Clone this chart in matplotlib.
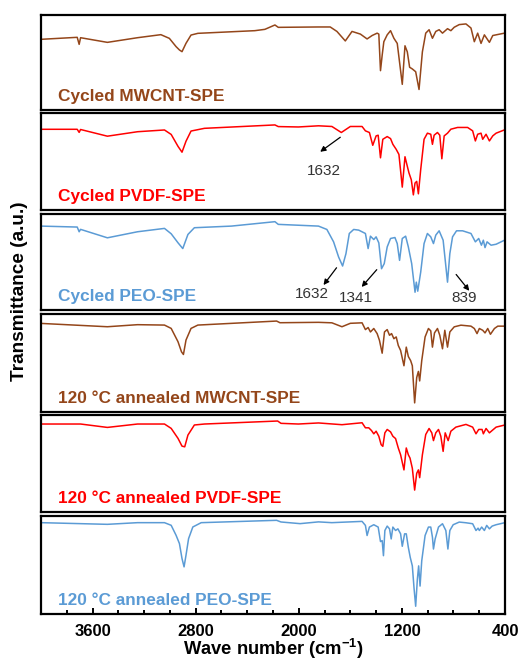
import matplotlib
matplotlib.use("Agg")
import matplotlib.pyplot as plt
from matplotlib.ticker import MultipleLocator

plt.rcParams['font.family'] = ['Liberation Sans', 'DejaVu Sans']
plt.rcParams['mathtext.fontset'] = 'custom'
plt.rcParams['mathtext.rm'] = 'Liberation Sans'
plt.rcParams['mathtext.bf'] = 'Liberation Sans:bold'

# spectra: wavenumber (cm-1) and normalised transmittance
wn_mwcnt_cyc = [4000, 3719, 3704, 3693, 3485, 3251, 3070, 3004, 2952, 2926, 2906, 2875, 2836, 2783,
                2341, 2263, 2185, 2159, 1847, 1756, 1704, 1639, 1587, 1522, 1470, 1431, 1392, 1379,
                1366, 1353, 1340, 1314, 1288, 1262, 1236, 1197, 1176, 1158, 1140, 1119, 1093, 1067,
                1041, 1015, 989, 963, 937, 911, 885, 846, 820, 794, 755, 703, 664, 638, 612, 586,
                560, 521, 495, 404]
t_mwcnt_cyc = [0.744, 0.765, 0.691, 0.761, 0.712, 0.761, 0.793, 0.754, 0.667, 0.632, 0.614, 0.702, 0.789, 0.807,
               0.835, 0.849, 0.895, 0.870, 0.874, 0.874, 0.827, 0.727, 0.827, 0.799, 0.748, 0.784, 0.809, 0.799,
               0.414, 0.576, 0.719, 0.791, 0.835, 0.755, 0.701, 0.270, 0.676, 0.612, 0.450, 0.432, 0.403, 0.216,
               0.612, 0.809, 0.845, 0.755, 0.827, 0.845, 0.809, 0.856, 0.835, 0.871, 0.899, 0.906, 0.863, 0.719,
               0.809, 0.701, 0.791, 0.712, 0.784, 0.809]

wn_pvdf_cyc = [4000, 3719, 3704, 3693, 3485, 3251, 3042, 2990, 2937, 2906, 2875, 2836, 2732, 2185, 2159,
               2003, 1847, 1743, 1670, 1600, 1509, 1483, 1452, 1426, 1400, 1384, 1366, 1348, 1314, 1288,
               1270, 1244, 1223, 1197, 1176, 1158, 1145, 1127, 1111, 1098, 1085, 1072, 1054, 1028, 1002,
               976, 963, 950, 924, 906, 890, 872, 846, 820, 768, 690, 651, 630, 612, 586, 573, 547, 521,
               495, 469, 404]
t_pvdf_cyc = [0.832, 0.832, 0.800, 0.830, 0.761, 0.807, 0.825, 0.779, 0.656, 0.596, 0.709, 0.814, 0.842, 0.877, 0.860,
              0.856, 0.868, 0.861, 0.799, 0.861, 0.861, 0.816, 0.799, 0.667, 0.764, 0.771, 0.538, 0.729, 0.757, 0.736,
              0.677, 0.625, 0.573, 0.236, 0.549, 0.451, 0.382, 0.312, 0.156, 0.278, 0.295, 0.167, 0.417, 0.729, 0.792,
              0.781, 0.677, 0.771, 0.799, 0.771, 0.528, 0.764, 0.792, 0.833, 0.851, 0.851, 0.816, 0.712, 0.781, 0.792,
              0.729, 0.781, 0.712, 0.764, 0.792, 0.826]

wn_peo_cyc = [4000, 3719, 3704, 3693, 3485, 3251, 3042, 2990, 2937, 2900, 2860, 2810, 2523, 2185, 2159, 1847,
              1782, 1730, 1691, 1660, 1634, 1608, 1574, 1535, 1483, 1462, 1444, 1418, 1400, 1379, 1358, 1337,
              1314, 1288, 1254, 1236, 1218, 1197, 1171, 1150, 1124, 1098, 1088, 1077, 1054, 1028, 1002, 976,
              955, 937, 911, 880, 846, 828, 807, 776, 729, 664, 630, 604, 583, 568, 555, 539, 508, 469, 404]
t_peo_cyc = [0.874, 0.864, 0.815, 0.840, 0.752, 0.815, 0.850, 0.794, 0.700, 0.640, 0.787, 0.857, 0.874, 0.920, 0.892, 0.874,
             0.839, 0.710, 0.552, 0.458, 0.587, 0.797, 0.839, 0.832, 0.797, 0.640, 0.769, 0.734, 0.762, 0.699, 0.430, 0.483,
             0.657, 0.745, 0.755, 0.692, 0.517, 0.745, 0.769, 0.657, 0.483, 0.185, 0.290, 0.196, 0.395, 0.692, 0.797, 0.762,
             0.692, 0.780, 0.825, 0.727, 0.290, 0.587, 0.762, 0.825, 0.825, 0.797, 0.710, 0.745, 0.675, 0.727, 0.650, 0.710,
             0.675, 0.685, 0.727]

wn_mwcnt_ann = [4000, 3485, 3251, 3042, 2990, 2937, 2910, 2895, 2875, 2836, 2783, 2172, 2146, 1847, 1743, 1665,
                1600, 1509, 1483, 1462, 1444, 1418, 1392, 1374, 1353, 1335, 1314, 1296, 1280, 1262, 1244, 1228,
                1210, 1184, 1166, 1150, 1132, 1119, 1101, 1085, 1072, 1062, 1046, 1020, 994, 976, 963, 947, 924,
                906, 885, 867, 846, 828, 794, 742, 664, 638, 617, 599, 573, 555, 534, 513, 482, 456, 404]
t_mwcnt_ann = [0.904, 0.870, 0.891, 0.887, 0.853, 0.717, 0.614, 0.587, 0.734, 0.853, 0.887, 0.928, 0.911, 0.915, 0.910, 0.870,
               0.905, 0.910, 0.841, 0.862, 0.817, 0.852, 0.800, 0.731, 0.600, 0.817, 0.841, 0.783, 0.800, 0.748, 0.766, 0.679,
               0.628, 0.472, 0.662, 0.566, 0.524, 0.472, 0.093, 0.352, 0.414, 0.317, 0.524, 0.766, 0.852, 0.828, 0.662, 0.807, 0.852,
               0.783, 0.645, 0.834, 0.662, 0.817, 0.869, 0.886, 0.876, 0.852, 0.800, 0.852, 0.834, 0.807, 0.852, 0.793, 0.852, 0.876, 0.876]

wn_pvdf_ann = [4000, 3693, 3485, 3251, 3042, 2990, 2937, 2906, 2885, 2860, 2810, 2732, 2164, 2138, 2003, 1847,
               1665, 1509, 1483, 1457, 1436, 1418, 1400, 1379, 1361, 1348, 1332, 1314, 1288, 1270, 1249, 1228,
               1210, 1184, 1166, 1150, 1137, 1119, 1101, 1085, 1072, 1062, 1041, 1015, 989, 968, 955, 937, 916,
               898, 880, 864, 841, 820, 781, 703, 651, 625, 604, 578, 568, 547, 521, 500, 469, 404]
t_pvdf_ann = [0.907, 0.907, 0.872, 0.907, 0.907, 0.862, 0.759, 0.679, 0.672, 0.793, 0.897, 0.907, 0.938, 0.914, 0.907, 0.918,
              0.900, 0.920, 0.868, 0.868, 0.840, 0.806, 0.833, 0.781, 0.694, 0.677, 0.816, 0.851, 0.826, 0.781, 0.757, 0.660,
              0.590, 0.434, 0.660, 0.590, 0.556, 0.451, 0.226, 0.399, 0.434, 0.354, 0.590, 0.799, 0.861, 0.816, 0.736, 0.816, 0.851,
              0.781, 0.625, 0.816, 0.736, 0.833, 0.875, 0.903, 0.875, 0.806, 0.851, 0.851, 0.806, 0.861, 0.816, 0.840, 0.875, 0.896]

wn_peo_ann = [4000, 3485, 3251, 3042, 2990, 2952, 2926, 2906, 2890, 2875, 2855, 2822, 2757, 2172, 2138, 1990,
              1847, 1744, 1509, 1483, 1470, 1452, 1418, 1384, 1366, 1353, 1343, 1332, 1314, 1296, 1283, 1270,
              1249, 1231, 1210, 1197, 1179, 1166, 1150, 1135, 1119, 1106, 1093, 1080, 1070, 1059, 1046, 1020,
              994, 976, 963, 955, 942, 916, 885, 859, 843, 828, 802, 755, 703, 651, 625, 609, 599, 581, 560,
              542, 521, 500, 469, 404]
t_peo_ann = [0.932, 0.915, 0.932, 0.932, 0.905, 0.803, 0.719, 0.566, 0.481, 0.600, 0.769, 0.888, 0.932, 0.956, 0.939, 0.922,
             0.940, 0.932, 0.945, 0.904, 0.801, 0.887, 0.911, 0.887, 0.739, 0.749, 0.595, 0.852, 0.897, 0.869, 0.766, 0.887,
             0.852, 0.869, 0.818, 0.691, 0.818, 0.818, 0.680, 0.577, 0.491, 0.268, 0.079, 0.354, 0.491, 0.285, 0.543, 0.801,
             0.887, 0.887, 0.784, 0.663, 0.766, 0.887, 0.921, 0.852, 0.663, 0.852, 0.911, 0.938, 0.931, 0.921, 0.852, 0.876,
             0.852, 0.887, 0.852, 0.904, 0.869, 0.897, 0.911, 0.931]

labels = ['Cycled MWCNT-SPE', 'Cycled PVDF-SPE', 'Cycled PEO-SPE',
          '120 °C annealed MWCNT-SPE', '120 °C annealed PVDF-SPE', '120 °C annealed PEO-SPE']

brown = '#94461a'
red = '#ff0000'
blue = '#5b9bd5'
colors = [brown, red, blue, brown, red, blue]

spectra = [(wn_mwcnt_cyc, t_mwcnt_cyc), (wn_pvdf_cyc, t_pvdf_cyc), (wn_peo_cyc, t_peo_cyc),
           (wn_mwcnt_ann, t_mwcnt_ann), (wn_pvdf_ann, t_pvdf_ann), (wn_peo_ann, t_peo_ann)]

# peak labels: (panel, text, arrow tail, arrow head, text position)
peaks = [
    (1, '1632', (1678, 0.75), (1834, 0.60), (1808, 0.40)),
    (2, '1632', (1707, 0.44), (1808, 0.26), (1902, 0.17)),
    (2, '1341', (1395, 0.42), (1512, 0.24), (1559, 0.13)),
    (2, '839', (779, 0.37), (677, 0.20), (716, 0.13)),
]

W, H = 521, 663
fig = plt.figure(figsize=(W / 100, H / 100), dpi=100)

# panel top/bottom in pixels
rows = [(15, 110), (113, 210), (214, 310), (314, 412), (415, 512), (516, 614)]
left, right = 41, 505

axes = []
for i, (top, bot) in enumerate(rows):
    ax = fig.add_axes([left / W, 1 - bot / H, (right - left) / W, (bot - top) / H])
    wn, t = spectra[i]
    ax.plot(wn, t, color=colors[i], lw=1.1)
    ax.set_xlim(4000, 400)
    ax.set_ylim(0, 1)
    ax.set_yticks([])
    for s in ax.spines.values():
        s.set_linewidth(1.6)
    ax.text(0.037, 0.14, labels[i], transform=ax.transAxes, color=colors[i],
            fontsize=12.4, fontweight='bold', va='center', ha='left')
    if i < 5:
        ax.set_xticks([])
    axes.append(ax)

for k, txt, tail, head, pos in peaks:
    ax = axes[k]
    ax.annotate('', xy=head, xytext=tail,
                arrowprops=dict(arrowstyle='-|>', color='black', lw=0.9,
                                mutation_scale=8, shrinkA=0, shrinkB=0))
    ax.text(pos[0], pos[1], txt, fontsize=11, color='#333333', ha='center', va='center')

ax = axes[-1]
ax.xaxis.set_minor_locator(MultipleLocator(200))
ax.set_xticks([3600, 2800, 2000, 1200, 400])
ax.tick_params(axis='x', which='both', direction='in', width=1.4, labelsize=12, pad=7)
ax.tick_params(axis='x', which='major', length=4)
ax.tick_params(axis='x', which='minor', length=3)
for lab in ax.get_xticklabels():
    lab.set_fontweight('bold')
ax.set_xlabel(r'Wave number (cm$^{\mathbf{-1}}$)', fontsize=13.2, fontweight='bold', labelpad=-1)

fig.text(0.038, 0.561, 'Transmittance (a.u.)', rotation=90, fontsize=13.7,
         fontweight='bold', ha='center', va='center')

fig.savefig('out.png', dpi=100)
